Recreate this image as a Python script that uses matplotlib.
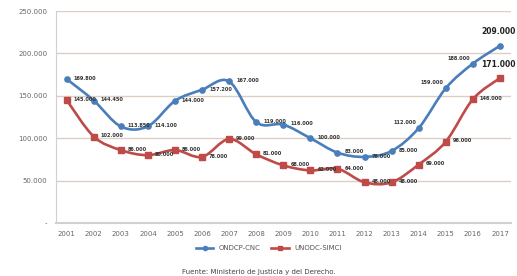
import numpy as np
import matplotlib
matplotlib.use("Agg")
from matplotlib import pyplot as plt
from matplotlib.path import Path
from matplotlib.patches import PathPatch

years = list(range(2001, 2018))
ondcp = [169800, 144450, 113850, 114100, 144000, 157200, 167000, 119000, 116000,
         100000, 83000, 78000, 85000, 112000, 159000, 188000, 209000]
unodc = [145000, 102000, 86000, 80000, 86000, 78000, 99000, 81000, 68000,
         62000, 64000, 48000, 48000, 69000, 96000, 146000, 171000]
y_ticks = [0, 50000, 100000, 150000, 200000, 250000]
y_ticklabels = ['-', '50.000', '100.000', '150.000', '200.000', '250.000']

BLUE = '#4a7ebb'
RED = '#be4b48'

# blue labels on the steep rise sit left of the point
left_labels = {2014, 2015, 2016}


def fmt(v):
    return f'{v:,}'.replace(',', '.')


def smooth_path(x, y):
    # excel-like smoothed line: cubic bezier through the points
    x = np.asarray(x, float)
    y = np.asarray(y, float)
    n = len(x)
    verts = [(x[0], y[0])]
    codes = [Path.MOVETO]
    for i in range(n - 1):
        i0 = max(i - 1, 0)
        i2 = min(i + 2, n - 1)
        c1 = (x[i] + (x[i + 1] - x[i0]) / 6, y[i] + (y[i + 1] - y[i0]) / 6)
        c2 = (x[i + 1] - (x[i2] - x[i]) / 6, y[i + 1] - (y[i2] - y[i]) / 6)
        verts += [c1, c2, (x[i + 1], y[i + 1])]
        codes += [Path.CURVE4] * 3
    return Path(verts, codes)


fig = plt.figure(figsize=(5.17, 2.76), dpi=100)
ax = fig.add_axes([0.108, 0.192, 0.88, 0.768])

for vals, col, mk in [(ondcp, BLUE, 'o'), (unodc, RED, 's')]:
    ax.add_patch(PathPatch(smooth_path(years, vals), facecolor='none',
                           edgecolor=col, lw=1.9, capstyle='round'))
    ax.plot(years, vals, linestyle='none', marker=mk, ms=3.8, color=col)

for series in (ondcp, unodc):
    for yr, v in zip(years, series):
        if yr == years[-1]:
            ax.annotate(fmt(v), (yr, v), xytext=(-1, 10), textcoords='offset points',
                        fontsize=5.5, fontweight='bold', color='#222',
                        ha='center', va='center')
        elif series is ondcp and yr in left_labels:
            ax.annotate(fmt(v), (yr, v), xytext=(-10, 4), textcoords='offset points',
                        fontsize=3.6, fontweight='bold', color='#333',
                        ha='center', va='center')
        else:
            ax.annotate(fmt(v), (yr, v), xytext=(5, 0.5), textcoords='offset points',
                        fontsize=3.6, fontweight='bold', color='#333', va='center')

ax.set_xlim(2000.6, 2017.4)
ax.set_ylim(0, 250000)
ax.set_xticks(years)
ax.set_xticklabels([str(y) for y in years], fontsize=5, color='#666')
ax.set_yticks(y_ticks)
ax.set_yticklabels(y_ticklabels, fontsize=5, color='#666')
ax.tick_params(length=0, pad=6)
ax.grid(axis='y', color='#dccdc5', lw=1.0)
ax.set_axisbelow(True)
for s in ['top', 'right']:
    ax.spines[s].set_visible(False)
ax.spines['left'].set_color('#d0d0d0')
ax.spines['bottom'].set_color('#d0d0d0')
ax.spines['bottom'].set_linewidth(1.5)

h1, = ax.plot([], [], color=BLUE, lw=1.9, marker='o', ms=3)
h2, = ax.plot([], [], color=RED, lw=1.9, marker='s', ms=3)
fig.legend([h1, h2], ['ONDCP-CNC', 'UNODC-SIMCI'], loc='center',
           bbox_to_anchor=(0.52, 0.1), ncol=2, frameon=False, fontsize=5,
           handlelength=2.5, columnspacing=1.5, labelcolor='#555')

fig.text(0.5, 0.005, 'Fuente: Ministerio de Justicia y del Derecho.',
         ha='center', va='bottom', fontsize=5, color='#444')

fig.savefig('out.png', dpi=100)
